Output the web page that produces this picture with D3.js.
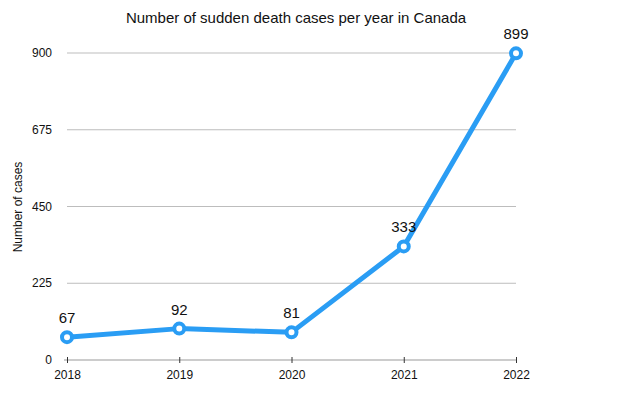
<!DOCTYPE html>
<html>
<head>
<meta charset="utf-8">
<script src="https://cdn.jsdelivr.net/npm/d3@7"></script>
<style>
  body { margin: 0; background: #fff; }
  text { font-family: "Liberation Sans", Arial, sans-serif; }
</style>
</head>
<body>
<script>
var w = 640;
var h = 404;

var years = ["2018", "2019", "2020", "2021", "2022"];
var cases = [67, 92, 81, 333, 899];
var yTicks = [0, 225, 450, 675, 900];

var svg = d3.select("body")
    .append("svg")
    .attr("width", w)
    .attr("height", h);

// plot area
var plotLeft = 67, plotRight = 516, plotTop = 53, plotBottom = 360;

var x = d3.scalePoint()
    .domain(years)
    .range([plotLeft, plotRight]);

var y = d3.scaleLinear()
    .domain([0, 900])
    .range([plotBottom, plotTop]);

svg.append("text")
    .text("Number of sudden death cases per year in Canada")
    .attr("x", 296)
    .attr("y", 23)
    .attr("text-anchor", "middle")
    .attr("font-size", 15)
    .attr("fill", "#111");

svg.append("text")
    .text("Number of cases")
    .attr("transform", "translate(22,207) rotate(-90)")
    .attr("text-anchor", "middle")
    .attr("font-size", 12)
    .attr("fill", "#111");

// gridlines
svg.selectAll(".grid")
    .data(yTicks.filter(function(d) { return d > 0; }))
    .enter().append("line")
    .attr("x1", plotLeft)
    .attr("x2", plotRight)
    .attr("y1", function(d) { return y(d); })
    .attr("y2", function(d) { return y(d); })
    .attr("stroke", "#bdbdbd")
    .attr("stroke-width", 1);

svg.selectAll(".ylab")
    .data(yTicks)
    .enter().append("text")
    .text(function(d) { return d; })
    .attr("x", 52)
    .attr("y", function(d) { return y(d) + 4; })
    .attr("text-anchor", "end")
    .attr("font-size", 12)
    .attr("fill", "#111");

// x axis
var xAxis = svg.append("g")
    .attr("transform", "translate(0," + plotBottom + ")")
    .call(d3.axisBottom(x).tickSize(3).tickPadding(7));
xAxis.select(".domain").attr("d", "M" + (plotLeft - 3) + ",0H" + plotRight).attr("stroke", "#999");
xAxis.selectAll(".tick line").attr("y1", -3).attr("y2", 3).attr("stroke", "#333");
xAxis.selectAll(".tick text")
    .attr("font-size", 12)
    .attr("font-family", "Liberation Sans, Arial, sans-serif")
    .attr("fill", "#111");

var line = d3.line()
    .x(function(d, i) { return x(years[i]); })
    .y(function(d) { return y(d); });

svg.append("path")
    .datum(cases)
    .attr("d", line)
    .attr("fill", "none")
    .attr("stroke", "#2a9df4")
    .attr("stroke-width", 5)
    .attr("stroke-linejoin", "round");

svg.selectAll(".dot")
    .data(cases)
    .enter().append("circle")
    .attr("cx", function(d, i) { return x(years[i]); })
    .attr("cy", function(d) { return y(d); })
    .attr("r", 5)
    .attr("fill", "#fff")
    .attr("stroke", "#2a9df4")
    .attr("stroke-width", 4);

svg.selectAll(".vlab")
    .data(cases)
    .enter().append("text")
    .text(function(d) { return d; })
    .attr("x", function(d, i) { return x(years[i]); })
    .attr("y", function(d) { return y(d) - 14; })
    .attr("text-anchor", "middle")
    .attr("font-size", 15)
    .attr("fill", "#111");
</script>
</body>
</html>
